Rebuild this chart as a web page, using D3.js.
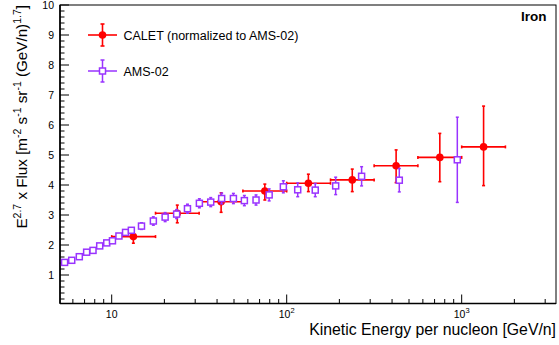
<!DOCTYPE html>
<html>
<head>
<meta charset="utf-8">
<script src="https://cdn.jsdelivr.net/npm/d3@7"></script>
<style>
  html, body { margin: 0; padding: 0; background: #fff; }
  svg { display: block; font-family: "Liberation Sans", Arial, sans-serif; }
</style>
</head>
<body>
<svg id="chart" width="559" height="345"></svg>
<script>
// ---- Data ----
const caletEnergy   = [13.3, 23.7, 42.2, 75.0, 133, 237, 422, 750, 1334];
const caletLow      = [10, 17.8, 31.6, 56.2, 100, 178, 316, 562, 1000];
const caletHigh     = [17.8, 31.6, 56.2, 100, 178, 316, 562, 1000, 1778];
const caletFlux     = [2.28, 3.06, 3.44, 3.80, 4.06, 4.17, 4.64, 4.92, 5.27];
const caletErrUp    = [0.16, 0.27, 0.30, 0.23, 0.30, 0.36, 0.53, 0.80, 1.36];
const caletErrDown  = [0.22, 0.32, 0.35, 0.30, 0.28, 0.39, 0.56, 0.81, 1.29];

const amsEnergy = [5.38, 5.91, 6.53, 7.19, 7.82, 8.54, 9.37, 10.1, 11.0, 12.0,
                   12.95, 14.8, 17.3, 20.2, 23.5, 27.1, 31.7, 36.8, 42.5, 49.6,
                   57.3, 66.8, 79.4, 95.7, 115.6, 145.6, 190.5, 268, 440, 944];
const amsFlux   = [1.42, 1.49, 1.61, 1.76, 1.82, 1.97, 2.07, 2.14, 2.30, 2.42,
                   2.49, 2.63, 2.80, 2.93, 3.03, 3.21, 3.39, 3.43, 3.55, 3.55,
                   3.48, 3.50, 3.67, 3.94, 3.84, 3.83, 3.97, 4.29, 4.16, 4.84];
const amsErr    = [0.04, 0.04, 0.04, 0.05, 0.05, 0.05, 0.06, 0.06, 0.07, 0.08,
                   0.08, 0.11, 0.14, 0.15, 0.15, 0.15, 0.15, 0.15, 0.18, 0.17,
                   0.17, 0.17, 0.20, 0.20, 0.23, 0.22, 0.29, 0.32, 0.39, 1.42];

const yTickValues = [1, 2, 3, 4, 5, 6, 7, 8, 9, 10];
const xMajorTicks = [10, 100, 1000];
const xTickExponents = ["1", "2", "3"];
const legendLabels = ["CALET (normalized to AMS-02)", "AMS-02"];
const panelLabel = "Iron";

// ---- Layout ----
const pL = 60, pR = 556, pT = 5, pB = 303.5;
const caletColor = "#ff0000";
const amsColor = "#9933ff";

const x = d3.scaleLog().domain([5.065, 3459]).range([pL, pR]);
const y = d3.scaleLinear().domain([0.05, 10]).range([pB, pT]);

const svg = d3.select("#chart");
svg.append("rect").attr("width", 559).attr("height", 345).attr("fill", "#fff");

// Frame
svg.append("rect").attr("x", pL).attr("y", pT)
  .attr("width", pR - pL).attr("height", pB - pT)
  .attr("fill", "none").attr("stroke", "#000").attr("stroke-width", 1);

// Y axis ticks
const gy = svg.append("g");
const yMinor = d3.range(0.2, 10, 0.2).filter(v => Math.abs(v - Math.round(v)) > 1e-6);
gy.selectAll("line.minor").data(yMinor).enter().append("line")
  .attr("x1", pL).attr("x2", pL + 4.5)
  .attr("y1", d => y(d)).attr("y2", d => y(d))
  .attr("stroke", "#000").attr("stroke-width", 1);
gy.selectAll("line.major").data(yTickValues).enter().append("line")
  .attr("x1", pL).attr("x2", pL + 9)
  .attr("y1", d => y(d)).attr("y2", d => y(d))
  .attr("stroke", "#000").attr("stroke-width", 1);
gy.selectAll("text").data(yTickValues).enter().append("text")
  .attr("x", pL - 6).attr("y", d => y(d)).attr("dy", "0.36em")
  .attr("text-anchor", "end").attr("font-size", 10.5).attr("fill", "#000")
  .text(d => d);

// X axis ticks
const gx = svg.append("g");
const xMinor = [];
[1, 10, 100, 1000].forEach(dec => {
  for (let k = 2; k <= 9; k++) {
    const v = dec * k;
    if (v > x.domain()[0] && v < x.domain()[1]) xMinor.push(v);
  }
});
gx.selectAll("line.minor").data(xMinor).enter().append("line")
  .attr("x1", d => x(d)).attr("x2", d => x(d))
  .attr("y1", pB).attr("y2", pB - 4.5)
  .attr("stroke", "#000").attr("stroke-width", 1);
gx.selectAll("line.major").data(xMajorTicks).enter().append("line")
  .attr("x1", d => x(d)).attr("x2", d => x(d))
  .attr("y1", pB).attr("y2", pB - 9)
  .attr("stroke", "#000").attr("stroke-width", 1);
xMajorTicks.forEach((v, i) => {
  const t = gx.append("text").attr("x", x(v)).attr("y", 317.5)
    .attr("text-anchor", "middle").attr("font-size", 10.5).attr("fill", "#000");
  t.append("tspan").text("10");
  if (xTickExponents[i] !== "1") {
    t.append("tspan").attr("dy", -4.5).attr("font-size", 7.5).text(xTickExponents[i]);
  }
});

// Axis lines (thicker left & bottom)
svg.append("line").attr("x1", pL).attr("x2", pL).attr("y1", pT).attr("y2", pB)
  .attr("stroke", "#000").attr("stroke-width", 1.6);
svg.append("line").attr("x1", pL).attr("x2", pR).attr("y1", pB).attr("y2", pB)
  .attr("stroke", "#000").attr("stroke-width", 1.6);

// Axis titles
svg.append("text").attr("x", pR).attr("y", 335)
  .attr("text-anchor", "end").attr("font-size", 15.8).attr("fill", "#000")
  .text("Kinetic Energy per nucleon [GeV/n]");

const yt = svg.append("text")
  .attr("transform", `translate(27,${pT}) rotate(-90)`)
  .attr("text-anchor", "end").attr("font-size", 15.2).attr("fill", "#000");
const sup = (s) => { yt.append("tspan").attr("dy", -6).attr("font-size", 10.5).text(s); };
const base = (s) => { yt.append("tspan").attr("dy", 6).text(s); };
yt.append("tspan").text("E");
sup("2.7"); base(" x Flux [m");
sup("-2"); base(" s");
sup("-1"); base(" sr");
sup("-1"); base(" (GeV/n)");
sup("1.7"); base("]");

// Panel label
svg.append("text").attr("x", 546.5).attr("y", 20.5).attr("text-anchor", "end")
  .attr("font-size", 13.5).attr("font-weight", "bold").attr("fill", "#000")
  .text(panelLabel);

// ---- CALET points ----
const calet = caletEnergy.map((e, i) => ({
  e, lo: caletLow[i], hi: caletHigh[i], f: caletFlux[i],
  up: caletErrUp[i], dn: caletErrDown[i]
}));
const gc = svg.append("g").attr("stroke", caletColor).attr("stroke-width", 1.6);
calet.forEach(d => {
  gc.append("line").attr("x1", x(d.lo)).attr("x2", x(d.hi))
    .attr("y1", y(d.f)).attr("y2", y(d.f));
  gc.append("line").attr("x1", x(d.e)).attr("x2", x(d.e))
    .attr("y1", y(d.f + d.up)).attr("y2", y(d.f - d.dn));
  [y(d.f + d.up), y(d.f - d.dn)].forEach(yy => {
    gc.append("line").attr("x1", x(d.e) - 1.5).attr("x2", x(d.e) + 1.5)
      .attr("y1", yy).attr("y2", yy);
  });
  [x(d.lo), x(d.hi)].forEach(xx => {
    gc.append("line").attr("x1", xx).attr("x2", xx)
      .attr("y1", y(d.f) - 1.5).attr("y2", y(d.f) + 1.5);
  });
});
svg.append("g").selectAll("circle").data(calet).enter().append("circle")
  .attr("cx", d => x(d.e)).attr("cy", d => y(d.f)).attr("r", 3.8)
  .attr("fill", caletColor);

// ---- AMS-02 points ----
const ams = amsEnergy.map((e, i) => ({ e, f: amsFlux[i], err: amsErr[i] }));
const ga = svg.append("g").attr("stroke", amsColor).attr("stroke-width", 1.5);
const half = 3;
ams.forEach(d => {
  const cx = x(d.e), cy = y(d.f);
  const yu = y(d.f + d.err), yd = y(d.f - d.err);
  if (yu < cy - half) {
    ga.append("line").attr("x1", cx).attr("x2", cx).attr("y1", yu).attr("y2", cy - half);
    ga.append("line").attr("x1", cx - 1.5).attr("x2", cx + 1.5).attr("y1", yu).attr("y2", yu);
  }
  if (yd > cy + half) {
    ga.append("line").attr("x1", cx).attr("x2", cx).attr("y1", cy + half).attr("y2", yd);
    ga.append("line").attr("x1", cx - 1.5).attr("x2", cx + 1.5).attr("y1", yd).attr("y2", yd);
  }
  ga.append("rect").attr("x", cx - half).attr("y", cy - half)
    .attr("width", 2 * half).attr("height", 2 * half).attr("fill", "#fff");
});

// ---- Legend ----
const lg = svg.append("g");
const lx = 102.5, lx1 = 88, lx2 = 117;
const ly = [35, 71];
// CALET entry
lg.append("line").attr("x1", lx1).attr("x2", lx2).attr("y1", ly[0]).attr("y2", ly[0])
  .attr("stroke", caletColor).attr("stroke-width", 1.6);
lg.append("line").attr("x1", lx).attr("x2", lx).attr("y1", 24).attr("y2", 46)
  .attr("stroke", caletColor).attr("stroke-width", 1.6);
[24, 46].forEach(yy => lg.append("line").attr("x1", lx - 2).attr("x2", lx + 2)
  .attr("y1", yy).attr("y2", yy).attr("stroke", caletColor).attr("stroke-width", 1.6));
lg.append("circle").attr("cx", lx).attr("cy", ly[0]).attr("r", 3.8).attr("fill", caletColor);
// AMS entry
lg.append("line").attr("x1", lx1).attr("x2", lx2).attr("y1", ly[1]).attr("y2", ly[1])
  .attr("stroke", amsColor).attr("stroke-width", 1.5);
lg.append("line").attr("x1", lx).attr("x2", lx).attr("y1", 60).attr("y2", 82)
  .attr("stroke", amsColor).attr("stroke-width", 1.5);
[60, 82].forEach(yy => lg.append("line").attr("x1", lx - 2).attr("x2", lx + 2)
  .attr("y1", yy).attr("y2", yy).attr("stroke", amsColor).attr("stroke-width", 1.5));
lg.append("rect").attr("x", lx - half).attr("y", ly[1] - half)
  .attr("width", 2 * half).attr("height", 2 * half)
  .attr("fill", "#fff").attr("stroke", amsColor).attr("stroke-width", 1.5);
legendLabels.forEach((t, i) => {
  lg.append("text").attr("x", 123.5).attr("y", ly[i]).attr("dy", "0.36em")
    .attr("font-size", 12.5).attr("fill", "#000").text(t);
});
</script>
</body>
</html>
